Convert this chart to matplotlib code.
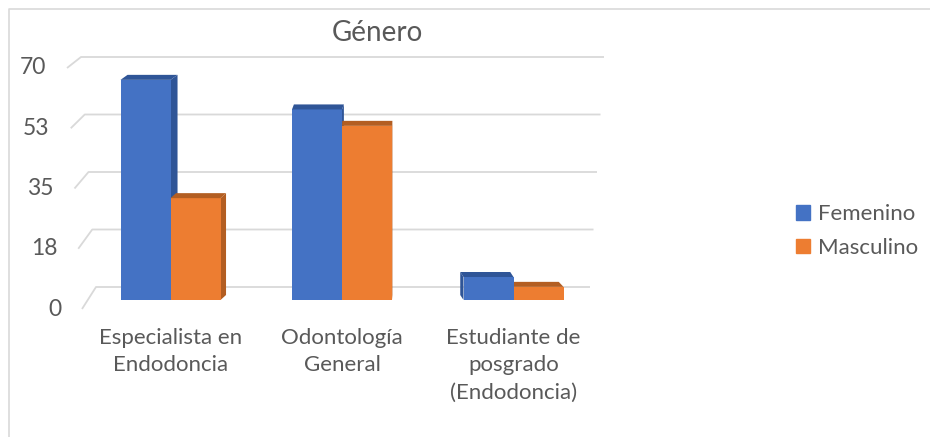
import numpy as np
import matplotlib
matplotlib.use("Agg")
import matplotlib.pyplot as plt
from matplotlib.patches import Polygon, Patch
from matplotlib.lines import Line2D

plt.rcParams['font.family'] = ['Lato', 'DejaVu Sans']

categories = ['Especialista en\nEndodoncia', 'Odontología\nGeneral', 'Estudiante de\nposgrado\n(Endodoncia)']
femenino = [67, 58, 7]
masculino = [31, 53, 4]
series_names = ['Femenino', 'Masculino']
yticks = [0, 17.5, 35, 52.5, 70]
ytick_labels = ['0', '18', '35', '53', '70']

blue, blue_dark = '#4472C4', '#2F5597'
orange, orange_dark = '#ED7D31', '#B35E22'
grid_c = '#D9D9D9'
text_c = '#595959'

W, H = 930, 437
fig = plt.figure(figsize=(W / 100, H / 100), dpi=100)
ax = fig.add_axes([0, 0, 1, 1])
ax.axis('off')

# pixel layout of the fake 3d plot area
CX0, CDX = 170.5, 171.5     # px of first category centre, px per category
Y0, SPX = 300, 230 / 70     # px (from top) of value 0 at the front, px per unit
ax.set_xlim(-CX0 / CDX, (W - CX0) / CDX)
ax.set_ylim((Y0 - H) / SPX, Y0 / SPX)

def px(p):
    return p / CDX

def py(p):
    return p / SPX

def to_x(p):
    return (p - CX0) / CDX

vmax = yticks[-1]
back = py(13)   # back wall is raised a bit

# back wall gridlines with a short slanted left wall piece
for v, lab in zip(yticks, ytick_labels):
    t = v / vmax
    yb = v + back
    x_start = to_x(96 - 15 * t)
    x_end = to_x(590 + 14 * t)
    x_low = to_x(82 - 15 * t)
    y_low = yb - py(22 - 11 * t)
    ax.plot([x_low, x_start, x_end], [y_low, yb, yb], color=grid_c, lw=1.3,
            solid_capstyle='butt', zorder=1)
    ax.text(to_x(61 - 15 * t), y_low, lab, ha='right', va='center',
            fontsize=16.5, color=text_c)

bw = px(50)
depth = py(5)
vp = 380

def draw_bar(x0, val, face, dark, z):
    xc_px = CX0 + (x0 + bw / 2) * CDX
    dx = px(-0.03 * (xc_px - vp))
    x1 = x0 + bw
    if dx > 0:
        side = [(x1, 0), (x1, val), (x1 + dx, val + depth), (x1 + dx, depth)]
    else:
        side = [(x0, 0), (x0, val), (x0 + dx, val + depth), (x0 + dx, depth)]
    ax.add_patch(Polygon(side, closed=True, fc=dark, ec='none', zorder=z))
    ax.bar(x0, val, width=bw, bottom=0, align='edge', color=face, zorder=z + 0.1)
    top = [(x0, val), (x1, val), (x1 + dx, val + depth), (x0 + dx, val + depth)]
    ax.add_patch(Polygon(top, closed=True, fc=dark, ec='none', zorder=z + 0.2))

for i in range(len(categories)):
    xc_px = CX0 + i * CDX
    if xc_px < vp:
        zb, zo = 2, 3
    else:
        zb, zo = 3, 2
    draw_bar(i - bw, femenino[i], blue, blue_dark, zb)
    draw_bar(i, masculino[i], orange, orange_dark, zo)
    ax.text(i, py(Y0 - 328), categories[i], ha='center', va='top',
            fontsize=16, color=text_c, linespacing=1.45)

fig.text(377 / W, 1 - 33 / H, 'Género', ha='center', va='center',
         fontsize=20, color=text_c)

handles = [Patch(color=blue), Patch(color=orange)]
fig.legend(handles, series_names, loc='center left',
           bbox_to_anchor=(796 / W, 1 - 231 / H), frameon=False, fontsize=16,
           handlelength=0.62, handleheight=0.62, handletextpad=0.35,
           labelspacing=0.6, labelcolor=text_c, borderpad=0, borderaxespad=0)

# chart border (only top and left are inside the picture)
fig.add_artist(Line2D([9 / W, 9 / W, 1], [0, 1 - 9 / H, 1 - 9 / H],
                      transform=fig.transFigure, color=grid_c, lw=1.2))

fig.savefig('out.png', dpi=100, facecolor='white')
